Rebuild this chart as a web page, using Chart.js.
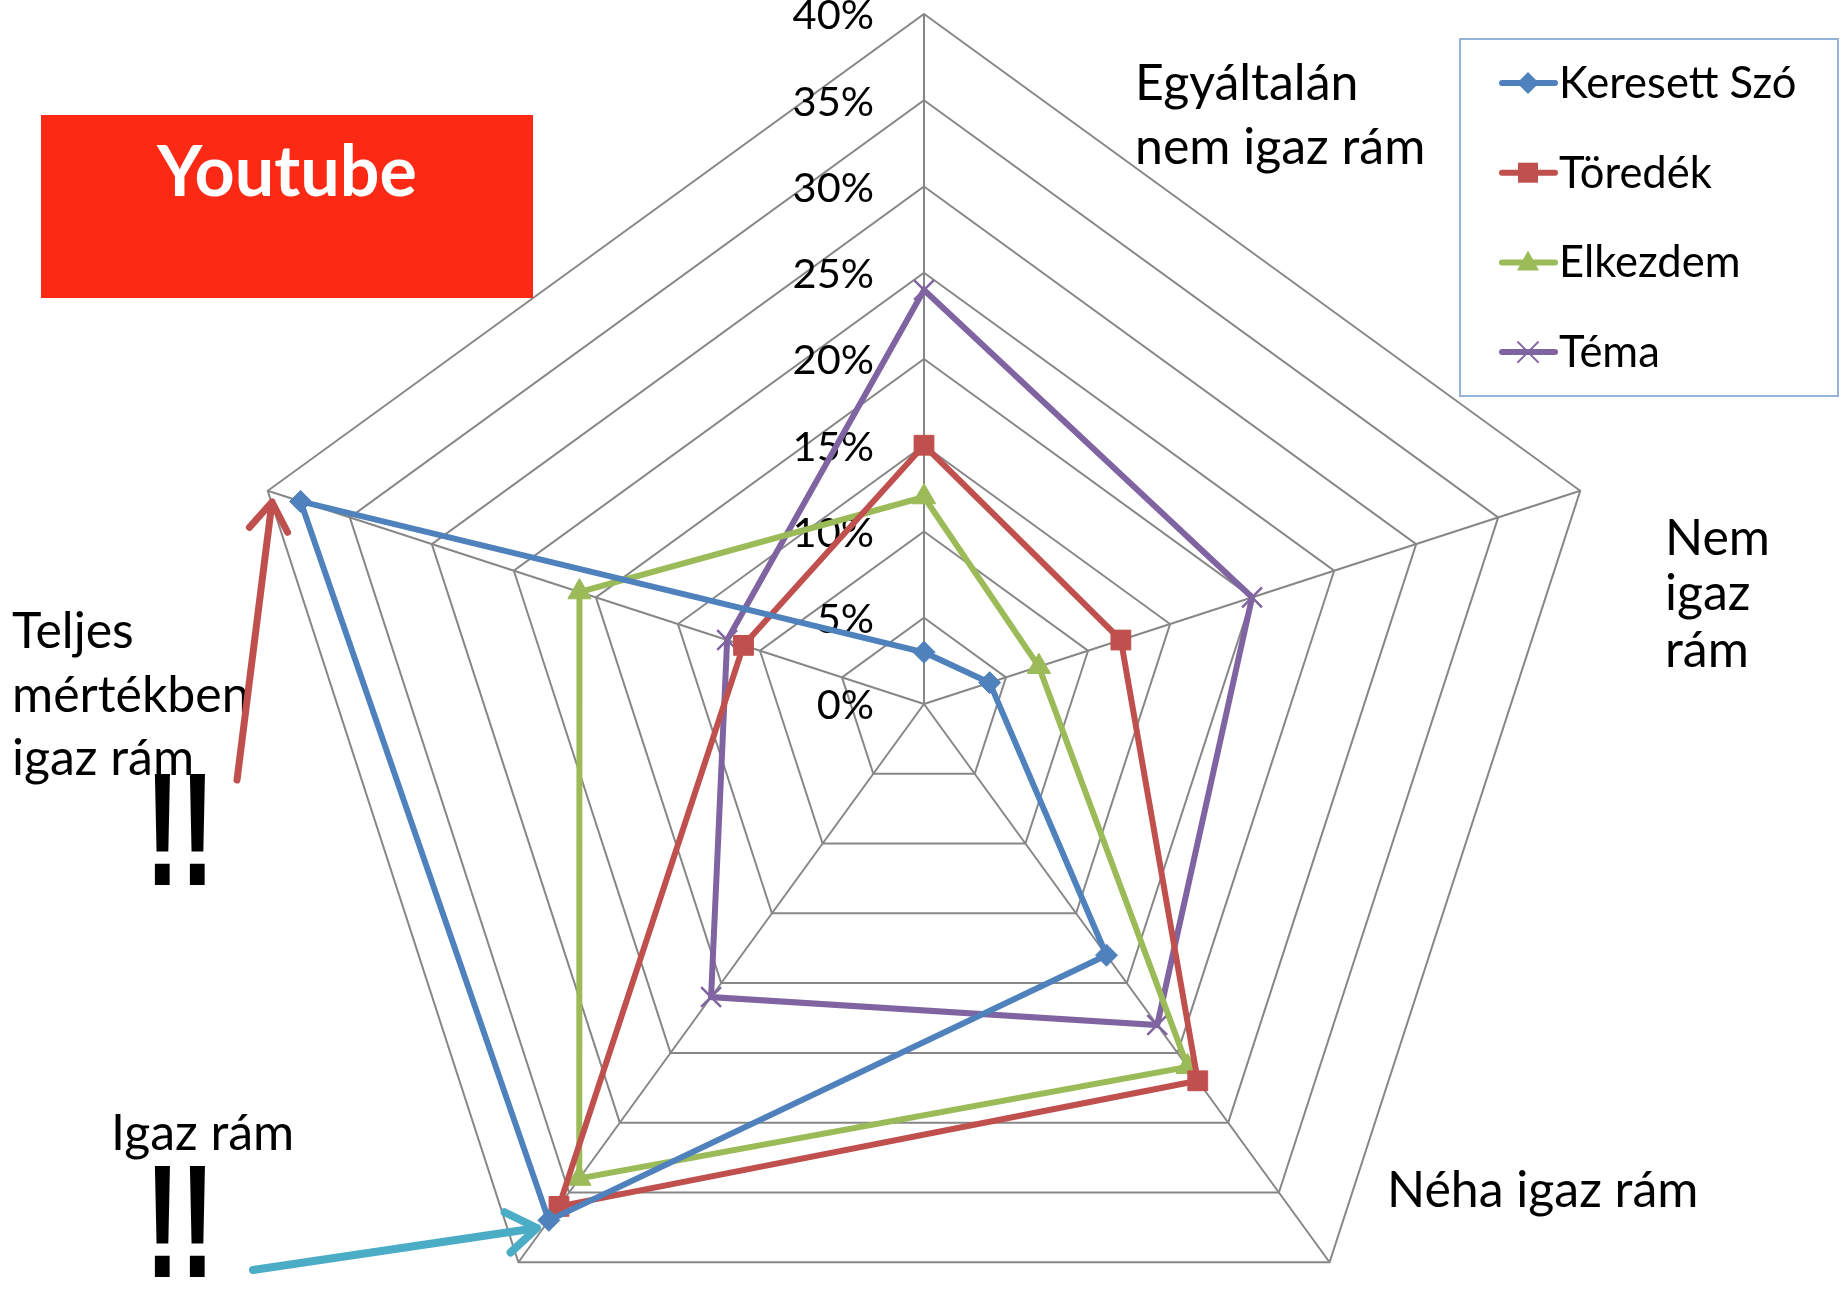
<!DOCTYPE html>
<html>
<head>
<meta charset="utf-8">
<title>Youtube</title>
<script src="https://cdn.jsdelivr.net/npm/chart.js@4.4.0/dist/chart.umd.min.js"></script>
<style>
  html, body { margin: 0; padding: 0; background: #fff; overflow: hidden; }
  #grafik { position: absolute; left: 0; top: 0; }
</style>
</head>
<body>
<canvas id="grafik" width="1845" height="1289"></canvas>
<script>
// adatok
const kategoriak = [
  ['Egyáltalán', 'nem igaz rám'],
  ['Nem', 'igaz', 'rám'],
  ['Néha igaz rám'],
  ['Igaz rám'],
  ['Teljes', 'mértékben', 'igaz rám']
];
const sorozatNevek = ['Keresett Szó', 'Töredék', 'Elkezdem', 'Téma'];
const keresettSzo = [3, 4, 18, 37, 38];
const toredek = [15, 12, 27, 36, 11];
const elkezdem = [12, 7, 26, 34, 21];
const tema = [24, 20, 23, 21, 12];
const skalaMin = 0;
const skalaMax = 40;
const skalaLepes = 5;
const cim = 'Youtube';

const sorozatok = [keresettSzo, toredek, elkezdem, tema];
const szinek = ['#4f81bd', '#c0504d', '#9bbb59', '#8064a2'];
const pontStilus = ['rectRot', 'rect', 'triangle', 'crossRot'];
const pontMeret = [11, 14, 13.5, 14];

// hova kerulnek a kategoria feliratok (bal szel, alapvonalak)
const cimkeHelyek = [
  { x: 1135, y: [100, 164] },
  { x: 1665, y: [555, 610, 667] },
  { x: 1387, y: [1207] },
  { x: 111, y: [1150] },
  { x: 12, y: [648, 712, 775] }
];

function marker(ctx, stilus, x, y, szin) {
  ctx.save();
  ctx.fillStyle = szin;
  ctx.strokeStyle = szin;
  ctx.beginPath();
  if (stilus === 'rectRot') {
    ctx.moveTo(x, y - 11); ctx.lineTo(x + 11, y); ctx.lineTo(x, y + 11); ctx.lineTo(x - 11, y);
    ctx.closePath(); ctx.fill();
  } else if (stilus === 'rect') {
    ctx.rect(x - 10, y - 10, 20, 20); ctx.fill();
  } else if (stilus === 'triangle') {
    ctx.moveTo(x, y - 12); ctx.lineTo(x + 11, y + 8); ctx.lineTo(x - 11, y + 8);
    ctx.closePath(); ctx.fill();
  } else {
    ctx.lineWidth = 2;
    ctx.moveTo(x - 10, y - 10); ctx.lineTo(x + 10, y + 10);
    ctx.moveTo(x + 10, y - 10); ctx.lineTo(x - 10, y + 10);
    ctx.stroke();
  }
  ctx.restore();
}

function nyil(ctx, x1, y1, x2, y2, szin, vastag, fej) {
  const a = Math.atan2(y2 - y1, x2 - x1);
  ctx.save();
  ctx.strokeStyle = szin;
  ctx.lineWidth = vastag;
  ctx.lineCap = 'round';
  ctx.lineJoin = 'round';
  ctx.beginPath();
  ctx.moveTo(x1, y1); ctx.lineTo(x2, y2);
  ctx.moveTo(x2 - fej * Math.cos(a - 0.6), y2 - fej * Math.sin(a - 0.6));
  ctx.lineTo(x2, y2);
  ctx.lineTo(x2 - fej * Math.cos(a + 0.6), y2 - fej * Math.sin(a + 0.6));
  ctx.stroke();
  ctx.restore();
}

function felkialtas(ctx, x, alap) {
  ctx.save();
  ctx.translate(x, alap);
  ctx.scale(1, 1.53);
  ctx.font = 'bold 105px "Liberation Sans"';
  ctx.fillStyle = '#000';
  ctx.textAlign = 'left';
  ctx.textBaseline = 'alphabetic';
  ctx.fillText('!!', 0, 0);
  ctx.restore();
}

const rajzolo = {
  id: 'rajzolo',
  beforeDatasetsDraw(chart) {
    const s = chart.scales.r;
    const ctx = chart.ctx;
    ctx.save();
    ctx.font = '41.5px Lato';
    ctx.fillStyle = '#000';
    ctx.textAlign = 'right';
    ctx.textBaseline = 'middle';
    s.ticks.forEach(t => {
      const y = s.yCenter - s.getDistanceFromCenterForValue(t.value);
      ctx.fillText(t.value + '%', s.xCenter - 50, y + 2);
    });
    ctx.restore();
  },
  afterDraw(chart) {
    const ctx = chart.ctx;
    ctx.save();

    // kategoria feliratok
    ctx.font = '50px Lato';
    ctx.fillStyle = '#000';
    ctx.textAlign = 'left';
    ctx.textBaseline = 'alphabetic';
    chart.data.labels.forEach((sorok, i) => {
      sorok.forEach((sor, j) => ctx.fillText(sor, cimkeHelyek[i].x, cimkeHelyek[i].y[j]));
    });

    // jelmagyarazat
    ctx.strokeStyle = '#95b3d7';
    ctx.lineWidth = 2;
    ctx.strokeRect(1460, 39, 378, 357);
    ctx.font = '43.5px Lato';
    chart.data.datasets.forEach((ds, i) => {
      const y = 83 + i * 89.7;
      ctx.strokeStyle = ds.borderColor;
      ctx.lineWidth = 6;
      ctx.lineCap = 'round';
      ctx.beginPath();
      ctx.moveTo(1502, y); ctx.lineTo(1555, y);
      ctx.stroke();
      marker(ctx, ds.pointStyle, 1528, y, ds.borderColor);
      ctx.fillStyle = '#000';
      ctx.fillText(ds.label, 1559, y + 15);
    });

    // cim doboz
    ctx.fillStyle = '#fc2a15';
    ctx.fillRect(41, 115, 492, 183);
    ctx.fillStyle = '#fff';
    ctx.font = 'bold 70px Lato';
    ctx.textAlign = 'center';
    ctx.fillText(cim, 287, 196);

    // nyilak es felkialtasok
    nyil(ctx, 237, 780, 272, 502, '#c0504d', 7, 34);
    nyil(ctx, 253, 1270, 537, 1228, '#4bacc6', 8, 36);
    felkialtas(ctx, 145, 885);
    felkialtas(ctx, 145, 1277);

    ctx.restore();
  }
};

const ctx = document.getElementById('grafik').getContext('2d');
new Chart(ctx, {
  type: 'radar',
  data: {
    labels: kategoriak,
    datasets: sorozatok.map((adat, i) => ({
      label: sorozatNevek[i],
      data: adat,
      borderColor: szinek[i],
      backgroundColor: szinek[i],
      borderWidth: 6,
      fill: false,
      tension: 0,
      clip: false,
      pointStyle: pontStilus[i],
      pointRadius: pontMeret[i],
      pointHoverRadius: pontMeret[i],
      pointBackgroundColor: szinek[i],
      pointBorderColor: szinek[i],
      pointBorderWidth: i === 3 ? 2.5 : 1
    }))
  },
  options: {
    responsive: false,
    animation: false,
    layout: { padding: 0 },
    plugins: {
      legend: { display: false },
      tooltip: { enabled: false }
    },
    scales: {
      r: {
        min: skalaMin,
        max: skalaMax,
        ticks: { display: false, stepSize: skalaLepes },
        pointLabels: { display: false },
        grid: { color: '#878787', lineWidth: 2 },
        angleLines: { color: '#878787', lineWidth: 2 },
        afterFit: (s) => {
          s.xCenter = 924;
          s.yCenter = 704;
          s.drawingArea = 690;
        }
      }
    }
  },
  plugins: [rajzolo]
});
</script>
</body>
</html>
